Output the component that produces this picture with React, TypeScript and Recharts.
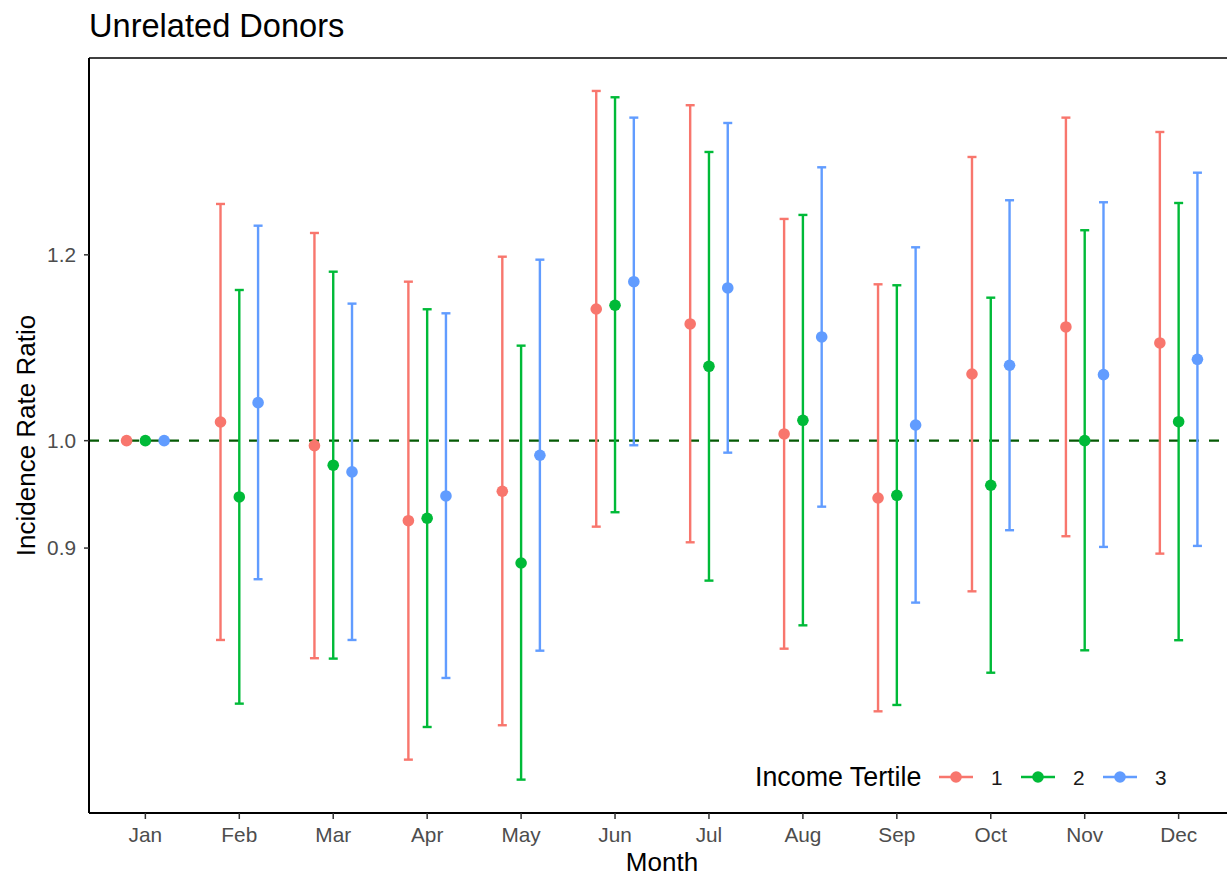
import React from 'react';
import { ComposedChart, Scatter, ErrorBar, XAxis, YAxis, ReferenceLine, Legend } from 'recharts';

const FONT = '"Liberation Sans", Arial, Helvetica, sans-serif';

const months = ['Jan', 'Feb', 'Mar', 'Apr', 'May', 'Jun', 'Jul', 'Aug', 'Sep', 'Oct', 'Nov', 'Dec'];
const tertiles = ['1', '2', '3'];
const colors = ['#F8766D', '#00BA38', '#619CFF'];
const yTicks = [0.9, 1.0, 1.2];

// Tertile 1
const irr1 = [1.0, 1.0185, 0.9951, 0.9245, 0.9516, 1.1379, 1.1213, 1.0066, 0.9453, 1.0676, 1.118, 1.1006];
const lo1 = [null, 0.8224, 0.8078, 0.7313, 0.7564, 0.9191, 0.9051, 0.8154, 0.7668, 0.8626, 0.9105, 0.8951];
const hi1 = [null, 1.2614, 1.226, 1.1688, 1.1978, 1.4093, 1.3897, 1.243, 1.1658, 1.3209, 1.3729, 1.3537];

// Tertile 2
const irr2 = [1.0, 0.9463, 0.9762, 0.9267, 0.8869, 1.1421, 1.0757, 1.0202, 0.9478, 0.9572, 1.0, 1.0188];
const lo2 = [null, 0.7726, 0.8075, 0.7551, 0.7171, 0.9322, 0.8717, 0.8343, 0.7716, 0.7964, 0.8141, 0.8222];
const hi2 = [null, 1.1593, 1.1803, 1.1376, 1.0977, 1.4006, 1.3274, 1.2479, 1.1647, 1.1506, 1.2293, 1.2626];

// Tertile 3
const irr3 = [1.0, 1.038, 0.9698, 0.9472, 0.9858, 1.1688, 1.1616, 1.1071, 1.0155, 1.0768, 1.0669, 1.0831];
const lo3 = [null, 0.8729, 0.8224, 0.7923, 0.8138, 0.9955, 0.9883, 0.9373, 0.8531, 0.9159, 0.901, 0.9019];
const hi3 = [null, 1.2348, 1.1439, 1.1331, 1.1943, 1.3729, 1.3657, 1.3076, 1.2089, 1.266, 1.2635, 1.3007];

const dodge = [-0.2, 0, 0.2];

function buildSeries(irr: number[], lo: (number | null)[], hi: (number | null)[], k: number) {
  return months.map((m, i) => ({
    x: i + dodge[k],
    month: m,
    y: irr[i],
    err: lo[i] == null || hi[i] == null ? null : [irr[i] - (lo[i] as number), (hi[i] as number) - irr[i]],
  }));
}

const series = [
  buildSeries(irr1, lo1, hi1, 0),
  buildSeries(irr2, lo2, hi2, 1),
  buildSeries(irr3, lo3, hi3, 2),
];

const TitleLabel = (props: any) => {
  const vb = props.viewBox || { x: 89 };
  return (
    <text x={vb.x ?? 89} y={37} fontSize={32.6} fill="#000" fontFamily={FONT}>
      Unrelated Donors
    </text>
  );
};

const XTitle = (props: any) => {
  const vb = props.viewBox || { x: 89, y: 813, width: 1146 };
  return (
    <text x={vb.x + vb.width / 2} y={vb.y + 58} fontSize={26} fill="#000" textAnchor="middle" fontFamily={FONT}>
      Month
    </text>
  );
};

const YTitle = (props: any) => {
  const vb = props.viewBox || { y: 58, height: 755 };
  const cy = vb.y + vb.height / 2;
  const cx = 35;
  return (
    <text x={cx} y={cy} fontSize={26} fill="#000" textAnchor="middle" fontFamily={FONT} transform={`rotate(-90, ${cx}, ${cy})`}>
      Incidence Rate Ratio
    </text>
  );
};

const LegendBox = () => {
  const keyX = [199, 281, 363];
  const labX = [251, 333, 415];
  const cy = 22;
  return (
    <svg width={480} height={44} style={{ overflow: 'visible', display: 'block' }}>
      <text x={15} y={31} fontSize={26.8} fill="#000" fontFamily={FONT}>
        Income Tertile
      </text>
      {tertiles.map((t, i) => (
        <g key={t}>
          <line x1={keyX[i]} x2={keyX[i] + 34} y1={cy} y2={cy} stroke={colors[i]} strokeWidth={2.3} />
          <circle cx={keyX[i] + 17} cy={cy} r={5.8} fill={colors[i]} />
          <text x={labX[i]} y={cy + 7.5} fontSize={20.8} fill="#1a1a1a" fontFamily={FONT}>
            {t}
          </text>
        </g>
      ))}
    </svg>
  );
};

export default function App() {
  return (
    <div style={{ position: 'absolute', left: 0, top: 0, width: 1227, height: 876, overflow: 'hidden', background: '#fff', fontFamily: FONT }}>
      <ComposedChart width={1250} height={876} margin={{ top: 0, right: 15, bottom: 0, left: 0 }}>
        <XAxis
          xAxisId="top"
          orientation="top"
          type="number"
          dataKey="x"
          domain={[-0.6, 11.6]}
          allowDataOverflow
          height={58}
          tick={false}
          tickLine={false}
          axisLine={{ stroke: '#000', strokeWidth: 1.5 }}
          label={<TitleLabel />}
        />
        <XAxis
          type="number"
          dataKey="x"
          domain={[-0.6, 11.6]}
          allowDataOverflow
          ticks={months.map((_, i) => i)}
          tickFormatter={(v: number) => months[Math.round(v)] ?? ''}
          interval={0}
          height={63}
          tickSize={6}
          tickMargin={8}
          tick={{ fontSize: 20.8, fill: '#4D4D4D', fontFamily: FONT }}
          tickLine={{ stroke: '#333', strokeWidth: 1.5 }}
          axisLine={{ stroke: '#000', strokeWidth: 2 }}
          label={<XTitle />}
        />
        <YAxis
          type="number"
          dataKey="y"
          scale="log"
          domain={[0.694, 1.4556]}
          allowDataOverflow
          ticks={yTicks}
          interval={0}
          tickFormatter={(v: number) => v.toFixed(1)}
          width={89}
          tickSize={5}
          tickMargin={8}
          tick={{ fontSize: 20.8, fill: '#4D4D4D', fontFamily: FONT }}
          tickLine={{ stroke: '#333', strokeWidth: 1.5 }}
          axisLine={{ stroke: '#000', strokeWidth: 2 }}
          label={<YTitle />}
        />
        <ReferenceLine y={1} stroke="#055a05" strokeWidth={2.3} strokeDasharray="10 10" />
        {series.map((data, k) => (
          <Scatter
            key={tertiles[k]}
            name={tertiles[k]}
            data={data}
            fill={colors[k]}
            isAnimationActive={false}
            shape={(p: any) => <circle cx={p.cx} cy={p.cy} r={5.8} fill={colors[k]} />}
          >
            <ErrorBar dataKey="err" direction="y" width={4.5} stroke={colors[k]} strokeWidth={2.4} isAnimationActive={false} />
          </Scatter>
        ))}
        <Legend
          layout="vertical"
          align="center"
          verticalAlign="middle"
          wrapperStyle={{ position: 'absolute', left: 740, top: 755, width: 0, height: 0, overflow: 'visible' }}
          content={() => <LegendBox />}
        />
      </ComposedChart>
    </div>
  );
}
